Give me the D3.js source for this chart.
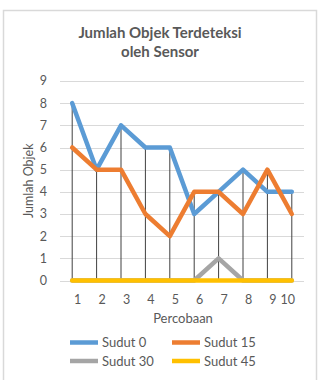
<!DOCTYPE html>
<html><head><meta charset="utf-8">
<script src="https://cdn.jsdelivr.net/npm/d3@7"></script>
<style>body{margin:0;background:#fff}svg{display:block}text{font-family:Lato,"Open Sans",sans-serif;fill:#595959}</style>
</head><body><svg id="c" width="320" height="380"></svg>
<script>
const categories = ["1","2","3","4","5","6","7","8","9","10"];
const seriesNames = ["Sudut 0","Sudut 15","Sudut 30","Sudut 45"];
const sudut0 = [8,5,7,6,6,3,4,5,4,4];
const sudut15 = [6,5,5,3,2,4,4,3,5,3];
const sudut30 = [0,0,0,0,0,0,1,0,0,0];
const sudut45 = [0,0,0,0,0,0,0,0,0,0];
const yTicks = [0,1,2,3,4,5,6,7,8,9];
const colors = ["#5B9BD5","#ED7D31","#A5A5A5","#FFC000"];
const titleLines = ["Jumlah Objek Terdeteksi","oleh Sensor"];

const series = [sudut0,sudut15,sudut30,sudut45];
const svg = d3.select("#c");
const m = {l:60,r:304,t:81,b:280.5};
const x = d3.scaleBand().domain(categories).range([m.l,m.r]);
const y = d3.scaleLinear().domain([0,9]).range([m.b,m.t]);

// border
svg.append("rect").attr("x",3.5).attr("y",10.5).attr("width",313).attr("height",375)
  .attr("fill","#fff").attr("stroke","#d9d9d9").attr("stroke-width",1.5);

// title
svg.selectAll(".title").data(titleLines).join("text")
  .attr("x",160).attr("y",(d,i)=>37.5+i*19.5).attr("text-anchor","middle")
  .attr("font-size",15).attr("font-weight","bold").text(d=>d);

// gridlines
svg.append("g").selectAll("line").data(yTicks).join("line")
  .attr("x1",m.l).attr("x2",m.r).attr("y1",d=>Math.round(y(d))+0.5).attr("y2",d=>Math.round(y(d))+0.5)
  .attr("stroke","#d9d9d9").attr("stroke-width",1);

// y axis labels
svg.append("g").selectAll("text").data(yTicks).join("text")
  .attr("x",47).attr("y",d=>y(d)).attr("dy","0.35em").attr("text-anchor","end")
  .attr("font-size",12.5).text(d=>d);

// x axis labels
svg.append("g").selectAll("text").data(categories).join("text")
  .attr("x",(d,i)=>{const cx=x(d)+x.bandwidth()/2+5.5; return i===categories.length-1? x(d)+x.bandwidth()/2-4 : cx;})
  .attr("y",303.5).attr("text-anchor","middle").attr("font-size",12.5).text(d=>d);

// axis titles
svg.append("text").attr("x",183).attr("y",322.5).attr("text-anchor","middle").attr("font-size",13).text("Percobaan");
svg.append("text").attr("transform","translate(33,"+((m.t+m.b)/2)+") rotate(-90)")
  .attr("text-anchor","middle").attr("font-size",12.5).text("Jumlah Objek");

// high-low lines
const idx = d3.range(categories.length);
svg.append("g").selectAll("line").data(idx).join("line")
  .attr("x1",i=>x(categories[i])+x.bandwidth()/2).attr("x2",i=>x(categories[i])+x.bandwidth()/2)
  .attr("y1",i=>y(d3.max(series,s=>s[i]))).attr("y2",i=>y(d3.min(series,s=>s[i])))
  .attr("stroke","#404040").attr("stroke-width",1);

// lines
const line = d3.line().x((d,i)=>x(categories[i])+x.bandwidth()/2).y(d=>y(d));
svg.append("g").selectAll("path").data(series).join("path")
  .attr("d",d=>line(d)).attr("fill","none").attr("stroke",(d,i)=>colors[i])
  .attr("stroke-width",4.5).attr("stroke-linejoin","round").attr("stroke-linecap","round");

// legend
const lg = svg.append("g").selectAll("g").data(seriesNames).join("g")
  .attr("transform",(d,i)=>"translate("+(70+(i%2)*102)+","+(342.5+Math.floor(i/2)*18.5)+")");
lg.append("line").attr("x1",0).attr("x2",28).attr("y1",0).attr("y2",0)
  .attr("stroke",(d,i)=>colors[i]).attr("stroke-width",4.5);
lg.append("text").attr("x",32).attr("dy","0.35em").attr("font-size",13).text(d=>d);
</script></body></html>
